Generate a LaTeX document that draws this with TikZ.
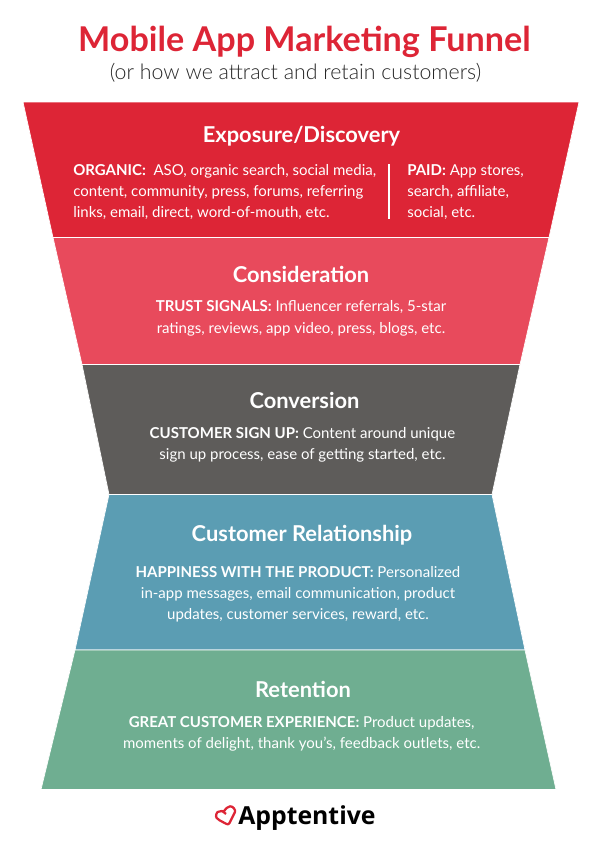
\documentclass[tikz,border=0pt]{standalone}
\usepackage{fontspec}
\setmainfont{Lato}
\newfontfamily\logofont{Open Sans}
\newfontfamily\thinfont{Lato Light}
\usepackage{tikz}
\usetikzlibrary{positioning}
\definecolor{funnelred}{HTML}{DD2536}
\definecolor{funnelpink}{HTML}{E84A5C}
\definecolor{funnelgrey}{HTML}{5E5C5A}
\definecolor{funnelblue}{HTML}{5B9DB3}
\definecolor{funnelgreen}{HTML}{6FAE91}

\begin{document}
\begin{tikzpicture}[
  x=0.75pt, y=-0.75pt,
  node distance=14pt and 10pt,
  band/.style={draw=white, line width=0.5pt},
  head/.style={text=white, inner sep=0pt, font=\fontsize{16.4}{20}\selectfont\bfseries},
  body/.style={text=white, inner sep=0pt, align=center, font=\fontsize{11.25}{16}\selectfont},
  bodyleft/.style={body, align=left}
]
\useasboundingbox (0,0) rectangle (600,853);

% funnel bands
\fill[band, fill=funnelred] (23,102) -- (579,102) -- (549,237.5) -- (53,237.5) -- cycle;
\fill[band, fill=funnelpink] (53,237.5) -- (549,237.5) -- (520,364.5) -- (82,364.5) -- cycle;
\fill[band, fill=funnelgrey] (82,364.5) -- (520,364.5) -- (492,494.5) -- (109,494.5) -- cycle;
\fill[band, fill=funnelblue] (109,494.5) -- (492,494.5) -- (525,650) -- (75,650) -- cycle;
\fill[band, fill=funnelgreen] (75,650) -- (525,650) -- (556,789.5) -- (41,789.5) -- cycle;

% title
\node[text=funnelred, inner sep=0pt, font=\fontsize{25.6}{30}\selectfont\bfseries] (title) at (304.5,42) {Mobile App Marketing Funnel};
\node[text=black!85, inner sep=0pt, font=\thinfont\fontsize{16}{18}\selectfont] (subtitle) at (295.5,73) {(or how we attract and retain customers)};

% Exposure/Discovery
\node[head] (exposure) at (301.5,136) {Exposure/Discovery};
\node[bodyleft, anchor=north west] (organic) at (73,164) {\textbf{ORGANIC:}\ \ ASO, organic search, social media,\\content, community, press, forums, referring\\links, email, direct, word-of-mouth, etc.};
\node[bodyleft, anchor=north west] (paid) at (407,164) {\textbf{PAID:} App stores,\\search, affiliate,\\social, etc.};
\coordinate (divtop) at (389,164);
\coordinate (divbot) at (389,219);
\draw[white, line width=1pt] (divtop) -- (divbot);

% Consideration
\node[head] (consideration) at (301,274) {Consideration};
\node[body, below=13.5pt of consideration] (trust) {\textbf{TRUST SIGNALS:} Influencer referrals, 5-star\\ratings, reviews, app video, press, blogs, etc.};

% Conversion
\node[head] (conversion) at (304.5,400) {Conversion};
\node[body, below=of conversion, xshift=-1.5pt] (signup) {\textbf{CUSTOMER SIGN UP:} Content around unique\\sign up process, ease of getting started, etc.};

% Customer Relationship
\node[head] (relationship) at (302,535) {Customer Relationship};
\node[body, below=15.5pt of relationship, xshift=-3pt] (happiness) {\textbf{HAPPINESS WITH THE PRODUCT:} Personalized\\in-app messages, email communication, product\\updates, customer services, reward, etc.};

% Retention
\node[head] (retention) at (303,689) {Retention};
\node[body, below=of retention, xshift=-1pt] (experience) {\textbf{GREAT CUSTOMER EXPERIENCE:} Product updates,\\moments of delight, thank you's, feedback outlets, etc.};

% logo
\draw[funnelred, line width=1.7pt, line join=round, rounded corners=1.5pt]
  (224,811) -- (228,806.5) .. controls (233,806) and (236,810) .. (234,814) -- (228.5,825) -- (218,819.5)
  .. controls (215,816) and (217,812) .. (220,811.5) .. controls (222,811) and (224,812) .. (226,814);
\node[font=\logofont\fontsize{18.6}{24}\selectfont\bfseries, inner sep=0pt, anchor=west] (logo) at (238,818) {Apptentive};
\end{tikzpicture}
\end{document}
